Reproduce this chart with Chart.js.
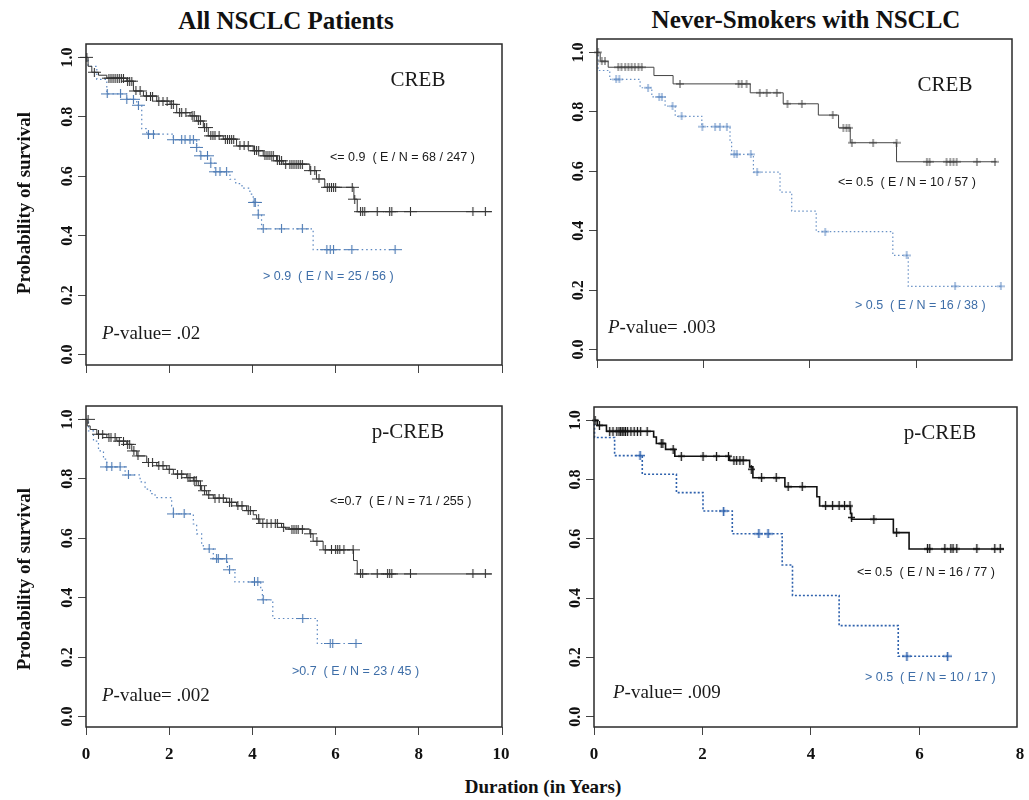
<!DOCTYPE html>
<html>
<head>
<meta charset="utf-8">
<script src="https://cdn.jsdelivr.net/npm/chart.js@4.4.1/dist/chart.umd.min.js"></script>
<style>
  body { margin: 0; background: #fff; width: 1029px; height: 800px; position: relative; overflow: hidden; font-family: "Liberation Serif", serif; }
  canvas { position: absolute; }
  .title { position: absolute; font-weight: bold; font-size: 25px; line-height: 1; white-space: nowrap; transform: translateX(-50%); color: #111; }
</style>
</head>
<body>
<div class="title" style="left:286px;top:8px">All NSCLC Patients</div>
<div class="title" style="left:806px;top:7px">Never-Smokers with NSCLC</div>
<div class="title" style="left:543px;top:777px;font-size:19px">Duration (in Years)</div>
<canvas id="c1" width="510" height="370" style="left:0;top:30px"></canvas>
<canvas id="c2" width="519" height="370" style="left:510px;top:30px"></canvas>
<canvas id="c3" width="510" height="375" style="left:0;top:395px"></canvas>
<canvas id="c4" width="519" height="375" style="left:510px;top:395px"></canvas>
<script>
const xTicksAll = [0, 2, 4, 6, 8, 10];
const xTicksNever = [0, 2, 4, 6, 8];
const yTicks = [0, 0.2, 0.4, 0.6, 0.8, 1.0];

// All NSCLC, CREB <= 0.9
const crebAllLowTime = [0, 0.05, 0.14, 0.3, 0.5, 0.98, 1.14, 1.38, 1.7, 2.02, 2.18, 2.5, 2.66, 2.82, 2.94, 3.3, 3.62, 4.02, 4.26, 4.58, 4.74, 5.38, 5.54, 5.74, 6.44, 6.52, 9.75];
const crebAllLowSurv = [1.0, 0.97, 0.95, 0.94, 0.93, 0.92, 0.887, 0.87, 0.853, 0.842, 0.814, 0.803, 0.786, 0.764, 0.736, 0.725, 0.702, 0.686, 0.669, 0.652, 0.641, 0.619, 0.591, 0.563, 0.523, 0.481, 0.481];
const crebAllLowCensTime = [0.02, 0.2, 0.55, 0.6, 0.65, 0.7, 0.75, 0.8, 0.85, 0.9, 1.0, 1.05, 1.1, 1.2, 1.3, 1.45, 1.55, 1.6, 1.75, 1.85, 1.95, 2.05, 2.1, 2.25, 2.3, 2.4, 2.55, 2.6, 2.7, 2.75, 2.85, 2.9, 3.0, 3.05, 3.1, 3.2, 3.35, 3.4, 3.45, 3.5, 3.55, 3.7, 3.8, 3.9, 4.05, 4.1, 4.15, 4.3, 4.35, 4.4, 4.45, 4.5, 4.6, 4.65, 4.7, 4.8, 4.9, 4.95, 5.0, 5.05, 5.1, 5.15, 5.2, 5.4, 5.5, 5.6, 5.8, 5.85, 5.9, 5.95, 6.0, 6.4, 6.46, 6.6, 6.65, 6.7, 7.0, 7.3, 7.35, 7.8, 9.3, 9.6];
const crebAllLowCensSurv = [1.0, 0.95, 0.93, 0.93, 0.93, 0.93, 0.93, 0.93, 0.93, 0.93, 0.92, 0.92, 0.92, 0.887, 0.887, 0.87, 0.87, 0.87, 0.853, 0.853, 0.853, 0.842, 0.842, 0.814, 0.814, 0.814, 0.803, 0.803, 0.786, 0.786, 0.764, 0.764, 0.736, 0.736, 0.736, 0.736, 0.725, 0.725, 0.725, 0.725, 0.725, 0.702, 0.702, 0.702, 0.686, 0.686, 0.686, 0.669, 0.669, 0.669, 0.669, 0.669, 0.652, 0.652, 0.652, 0.641, 0.641, 0.641, 0.641, 0.641, 0.641, 0.641, 0.641, 0.619, 0.619, 0.591, 0.563, 0.563, 0.563, 0.563, 0.563, 0.563, 0.523, 0.481, 0.481, 0.481, 0.481, 0.481, 0.481, 0.481, 0.481, 0.481];

// All NSCLC, CREB > 0.9
const crebAllHighTime = [0, 0.05, 0.26, 0.5, 0.98, 1.22, 1.34, 1.46, 2.1, 2.66, 2.74, 3.0, 3.1, 3.46, 3.6, 3.75, 3.94, 4.02, 4.14, 4.22, 5.46, 7.43];
const crebAllHighSurv = [1.0, 0.97, 0.926, 0.877, 0.859, 0.839, 0.76, 0.742, 0.723, 0.697, 0.669, 0.644, 0.615, 0.59, 0.575, 0.56, 0.54, 0.512, 0.47, 0.423, 0.353, 0.353];
const crebAllHighCensTime = [0.51, 0.83, 0.98, 1.14, 1.26, 1.5, 1.62, 2.1, 2.3, 2.38, 2.5, 2.58, 2.66, 2.76, 2.92, 3.0, 3.12, 3.22, 3.38, 4.04, 4.07, 4.14, 4.26, 4.7, 5.2, 5.79, 5.87, 5.95, 6.39, 7.43];
const crebAllHighCensSurv = [0.877, 0.877, 0.859, 0.859, 0.839, 0.742, 0.742, 0.723, 0.723, 0.723, 0.723, 0.723, 0.697, 0.669, 0.669, 0.644, 0.615, 0.615, 0.615, 0.512, 0.512, 0.47, 0.423, 0.423, 0.423, 0.353, 0.353, 0.353, 0.353, 0.353];

// Never-smokers, CREB <= 0.5
const crebNevLowTime = [0, 0.06, 0.21, 1.07, 1.43, 2.88, 3.5, 4.16, 4.54, 4.76, 5.63, 7.51];
const crebNevLowSurv = [1.0, 0.97, 0.95, 0.922, 0.894, 0.864, 0.827, 0.789, 0.746, 0.696, 0.632, 0.632];
const crebNevLowCensTime = [0.02, 0.09, 0.15, 0.4, 0.46, 0.53, 0.59, 0.65, 0.71, 0.78, 0.84, 1.56, 2.66, 2.72, 2.81, 3.06, 3.19, 3.38, 3.58, 3.85, 4.43, 4.63, 4.69, 4.74, 4.79, 5.19, 5.63, 6.2, 6.25, 6.57, 6.64, 6.7, 6.76, 7.14, 7.48];
const crebNevLowCensSurv = [1.0, 0.97, 0.97, 0.95, 0.95, 0.95, 0.95, 0.95, 0.95, 0.95, 0.95, 0.894, 0.894, 0.894, 0.894, 0.864, 0.864, 0.864, 0.827, 0.827, 0.789, 0.746, 0.746, 0.746, 0.696, 0.696, 0.696, 0.632, 0.632, 0.632, 0.632, 0.632, 0.632, 0.632, 0.632];

// Never-smokers, CREB > 0.5
const crebNevHighTime = [0, 0.02, 0.24, 0.81, 1.03, 1.28, 1.47, 1.97, 2.5, 2.53, 2.94, 3.44, 3.66, 4.12, 5.56, 5.85, 7.59];
const crebNevHighSurv = [1.0, 0.939, 0.909, 0.881, 0.85, 0.819, 0.785, 0.75, 0.7, 0.657, 0.597, 0.53, 0.466, 0.397, 0.317, 0.213, 0.213];
const crebNevHighCensTime = [0.36, 0.42, 0.96, 1.17, 1.22, 1.42, 1.59, 1.98, 2.22, 2.31, 2.44, 2.58, 2.63, 2.89, 3.01, 4.29, 5.82, 6.73, 7.59];
const crebNevHighCensSurv = [0.909, 0.909, 0.881, 0.85, 0.85, 0.819, 0.785, 0.75, 0.75, 0.75, 0.75, 0.657, 0.657, 0.657, 0.597, 0.397, 0.317, 0.213, 0.213];

// All NSCLC, p-CREB <= 0.7
const pcrebAllLowTime = [0, 0.03, 0.1, 0.26, 0.5, 0.74, 0.98, 1.1, 1.22, 1.46, 1.7, 1.94, 2.1, 2.42, 2.58, 2.7, 2.78, 2.9, 3.06, 3.38, 3.62, 3.86, 4.02, 4.1, 4.18, 4.7, 4.8, 5.38, 5.46, 5.7, 6.43, 6.52, 9.75];
const pcrebAllLowSurv = [1.0, 0.978, 0.966, 0.95, 0.939, 0.927, 0.916, 0.894, 0.877, 0.855, 0.844, 0.832, 0.816, 0.804, 0.793, 0.777, 0.76, 0.746, 0.735, 0.721, 0.709, 0.693, 0.679, 0.665, 0.65, 0.637, 0.631, 0.615, 0.59, 0.561, 0.525, 0.48, 0.48];
const pcrebAllLowCensTime = [0.05, 0.3, 0.4, 0.55, 0.6, 0.7, 0.8, 0.9, 1.0, 1.05, 1.15, 1.25, 1.5, 1.6, 1.75, 1.85, 2.0, 2.2, 2.3, 2.45, 2.5, 2.6, 2.65, 2.75, 2.85, 2.95, 3.1, 3.2, 3.3, 3.45, 3.5, 3.65, 3.75, 3.9, 3.95, 4.15, 4.25, 4.35, 4.45, 4.55, 4.6, 4.75, 4.95, 5.0, 5.05, 5.1, 5.2, 5.4, 5.55, 5.75, 5.9, 6.0, 6.05, 6.1, 6.2, 6.42, 6.6, 6.65, 7.0, 7.25, 7.3, 7.35, 7.8, 9.3, 9.6];
const pcrebAllLowCensSurv = [1.0, 0.95, 0.95, 0.939, 0.939, 0.939, 0.927, 0.927, 0.916, 0.916, 0.894, 0.877, 0.855, 0.855, 0.844, 0.844, 0.832, 0.816, 0.816, 0.804, 0.804, 0.793, 0.793, 0.777, 0.76, 0.746, 0.735, 0.735, 0.735, 0.721, 0.721, 0.709, 0.709, 0.693, 0.693, 0.665, 0.65, 0.65, 0.65, 0.65, 0.65, 0.637, 0.631, 0.631, 0.631, 0.631, 0.631, 0.615, 0.59, 0.561, 0.561, 0.561, 0.561, 0.561, 0.561, 0.561, 0.48, 0.48, 0.48, 0.48, 0.48, 0.48, 0.48, 0.48, 0.48];

// All NSCLC, p-CREB > 0.7
const pcrebAllHighTime = [0, 0.06, 0.18, 0.3, 0.42, 0.5, 0.94, 1.3, 1.42, 1.55, 1.66, 2.06, 2.1, 2.58, 2.66, 2.78, 2.82, 3.06, 3.4, 3.58, 4.2, 4.24, 4.49, 5.56, 6.63];
const pcrebAllHighSurv = [1.0, 0.961, 0.927, 0.894, 0.866, 0.84, 0.813, 0.79, 0.765, 0.75, 0.737, 0.709, 0.682, 0.648, 0.615, 0.575, 0.564, 0.531, 0.494, 0.453, 0.43, 0.393, 0.33, 0.246, 0.246];
const pcrebAllHighCensTime = [0.5, 0.62, 0.82, 1.02, 2.1, 2.36, 2.96, 3.14, 3.18, 3.38, 3.45, 4.05, 4.13, 4.26, 5.21, 5.87, 5.93, 6.49];
const pcrebAllHighCensSurv = [0.84, 0.84, 0.84, 0.813, 0.682, 0.682, 0.564, 0.531, 0.531, 0.531, 0.494, 0.453, 0.453, 0.393, 0.33, 0.246, 0.246, 0.246];

// Never-smokers, p-CREB <= 0.5
const pcrebNevLowTime = [0, 0.06, 0.23, 1.1, 1.15, 1.32, 1.49, 2.5, 2.87, 2.93, 3.52, 4.11, 4.16, 4.73, 4.75, 5.52, 5.81, 7.56];
const pcrebNevLowSurv = [1.0, 0.983, 0.963, 0.944, 0.922, 0.902, 0.879, 0.865, 0.843, 0.806, 0.776, 0.742, 0.711, 0.686, 0.666, 0.621, 0.566, 0.566];
const pcrebNevLowCensTime = [0.02, 0.1, 0.29, 0.35, 0.42, 0.46, 0.49, 0.52, 0.55, 0.58, 0.62, 0.68, 0.74, 0.8, 0.86, 0.98, 1.24, 1.27, 1.46, 1.61, 2.01, 2.26, 2.48, 2.58, 2.63, 2.69, 2.75, 2.9, 3.09, 3.36, 3.58, 3.84, 4.27, 4.4, 4.52, 4.62, 4.72, 4.75, 5.16, 5.58, 6.15, 6.19, 6.47, 6.58, 6.62, 6.69, 7.06, 7.39, 7.49];
const pcrebNevLowCensSurv = [1.0, 0.983, 0.963, 0.963, 0.963, 0.963, 0.963, 0.963, 0.963, 0.963, 0.963, 0.963, 0.963, 0.963, 0.963, 0.963, 0.922, 0.922, 0.902, 0.879, 0.879, 0.879, 0.879, 0.865, 0.865, 0.865, 0.865, 0.835, 0.806, 0.806, 0.776, 0.776, 0.711, 0.711, 0.711, 0.711, 0.711, 0.672, 0.666, 0.621, 0.566, 0.566, 0.566, 0.566, 0.566, 0.566, 0.566, 0.566, 0.566];

// Never-smokers, p-CREB > 0.5
const pcrebNevHighTime = [0, 0.01, 0.38, 0.89, 1.52, 2.01, 2.55, 3.47, 3.66, 4.52, 5.61, 6.52];
const pcrebNevHighSurv = [1.0, 0.942, 0.881, 0.818, 0.756, 0.694, 0.617, 0.512, 0.409, 0.307, 0.204, 0.204];
const pcrebNevHighCensTime = [0.85, 2.39, 3.04, 3.21, 5.77, 6.52];
const pcrebNevHighCensSurv = [0.881, 0.694, 0.617, 0.617, 0.204, 0.204];

const pts = (t, s) => t.map((v, i) => ({ x: v, y: s[i] }));

function crossImg(w, h, color, lw) {
  const c = document.createElement('canvas');
  c.width = w; c.height = h;
  const g = c.getContext('2d');
  g.strokeStyle = color; g.lineWidth = lw;
  g.beginPath();
  g.moveTo(0, h / 2); g.lineTo(w, h / 2);
  g.moveTo(w / 2, 0); g.lineTo(w / 2, h);
  g.stroke();
  return c;
}

const kmDecor = {
  id: 'kmDecor',
  afterDraw(chart, args, o) {
    const { ctx, chartArea: a, scales: { x, y } } = chart;
    ctx.save();
    ctx.strokeStyle = '#2a2a2a';
    ctx.lineWidth = 1.5;
    ctx.strokeRect(a.left, a.top, a.right - a.left, a.bottom - a.top);
    ctx.fillStyle = '#111';
    ctx.textAlign = 'center';
    ctx.textBaseline = 'middle';
    ctx.font = 'bold 16px "Liberation Serif"';
    y.ticks.forEach(t => {
      ctx.save();
      ctx.translate(a.left - 18, y.getPixelForValue(t.value));
      ctx.rotate(-Math.PI / 2);
      ctx.fillText(t.value.toFixed(1), 0, 0);
      ctx.restore();
    });
    if (o.xLabels) {
      ctx.font = 'bold 17px "Liberation Serif"';
      x.ticks.forEach(t => {
        const px = Math.min(x.getPixelForValue(t.value), chart.width - 9);
        ctx.fillText(String(t.value), px, a.bottom + 28);
      });
    }
    if (o.yTitleAt) {
      ctx.save();
      ctx.font = 'bold 19px "Liberation Serif"';
      ctx.translate(25, o.yTitleAt);
      ctx.rotate(-Math.PI / 2);
      ctx.fillText('Probability of survival', 0, 0);
      ctx.restore();
    }
    (o.notes || []).forEach(n => {
      ctx.fillStyle = n.color || '#1a1a1a';
      ctx.textAlign = n.align || 'left';
      if (n.pval) {
        ctx.font = 'italic 19px "Liberation Serif"';
        ctx.fillText('P', n.x, n.y);
        const w = ctx.measureText('P').width;
        ctx.font = '19px "Liberation Serif"';
        ctx.fillText('-value= ' + n.pval, n.x + w, n.y);
      } else {
        ctx.font = n.font;
        ctx.fillText(n.text, n.x, n.y);
      }
    });
    ctx.restore();
  }
};

const sans = '12.5px "Liberation Sans"';
const serifBig = '21px "Liberation Serif"';
const blueText = '#3e6ea8';

function makeChart(id, p) {
  const W = document.getElementById(id).width;
  const H = document.getElementById(id).height;
  const lineDs = (data, color, width, dash) => ({
    data, borderColor: color, borderWidth: width, borderDash: dash || [],
    stepped: true, pointRadius: 0, fill: false, clip: false
  });
  const censDs = (data, img) => ({
    data, showLine: false, pointStyle: img, pointRadius: 5, pointHoverRadius: 5, clip: false
  });
  new Chart(document.getElementById(id), {
    type: 'line',
    data: {
      datasets: [
        lineDs(pts(p.low[0], p.low[1]), p.lowColor, p.lowWidth),
        censDs(pts(p.low[2], p.low[3]), p.lowCross),
        lineDs(pts(p.high[0], p.high[1]), p.highColor, p.highWidth, p.highDash),
        censDs(pts(p.high[2], p.high[3]), p.highCross)
      ]
    },
    options: {
      responsive: false,
      animation: false,
      devicePixelRatio: 1,
      layout: { padding: { left: 0, top: p.area.t, right: W - p.area.r, bottom: 0 } },
      plugins: {
        legend: { display: false },
        tooltip: { enabled: false },
        kmDecor: { xLabels: p.xLabels, yTitleAt: p.yTitleAt, notes: p.notes }
      },
      scales: {
        x: {
          type: 'linear', min: 0, max: p.xMax,
          afterBuildTicks: s => { s.ticks = p.xTicks.map(v => ({ value: v })); },
          afterFit: s => { s.height = H - p.area.b; s.paddingLeft = 0; s.paddingRight = 0; },
          ticks: { display: false },
          grid: {
            drawOnChartArea: false, drawTicks: true, tickLength: 8,
            color: c => (c.tick && c.tick.value > p.xMax ? 'rgba(0,0,0,0)' : '#444')
          },
          border: { display: false }
        },
        y: {
          type: 'linear', min: -0.035, max: 1.045,
          afterBuildTicks: s => { s.ticks = yTicks.map(v => ({ value: v })); },
          afterFit: s => { s.width = p.area.l; s.paddingTop = 0; s.paddingBottom = 0; },
          ticks: { display: false },
          grid: { drawOnChartArea: false, drawTicks: true, tickLength: 8, color: '#444' },
          border: { display: false }
        }
      }
    },
    plugins: [kmDecor]
  });
}

const bigBlack = crossImg(13, 9, '#333', 1.1);
const bigBlue = crossImg(13, 9, '#4a78b2', 1.1);

makeChart('c1', {
  area: { l: 86, t: 14, r: 502, b: 335 }, xMax: 10, xTicks: xTicksAll, xLabels: false, yTitleAt: 173,
  low: [crebAllLowTime, crebAllLowSurv, crebAllLowCensTime, crebAllLowCensSurv],
  high: [crebAllHighTime, crebAllHighSurv, crebAllHighCensTime, crebAllHighCensSurv],
  lowColor: '#333', lowWidth: 1, highColor: '#5a86c0', highWidth: 1.2, highDash: [1.5, 3],
  lowCross: bigBlack, highCross: bigBlue,
  notes: [
    { text: 'CREB', x: 418, y: 50, font: serifBig, align: 'center' },
    { text: '<= 0.9  ( E / N = 68 / 247 )', x: 330, y: 128, font: sans },
    { text: '> 0.9  ( E / N = 25 / 56 )', x: 263, y: 247, font: sans, color: blueText },
    { pval: '.02', x: 102, y: 304 }
  ]
});

makeChart('c2', {
  area: { l: 87, t: 9, r: 502, b: 330 }, xMax: 7.8, xTicks: xTicksNever, xLabels: false, yTitleAt: 0,
  low: [crebNevLowTime, crebNevLowSurv, crebNevLowCensTime, crebNevLowCensSurv],
  high: [crebNevHighTime, crebNevHighSurv, crebNevHighCensTime, crebNevHighCensSurv],
  lowColor: '#444', lowWidth: 1, highColor: '#6a92c6', highWidth: 1.2, highDash: [1.5, 2.5],
  lowCross: crossImg(8, 8, '#444', 1), highCross: crossImg(8, 8, '#5a86c0', 1),
  notes: [
    { text: 'CREB', x: 435, y: 55, font: serifBig, align: 'center' },
    { text: '<= 0.5  ( E / N = 10 / 57 )', x: 328, y: 153, font: sans },
    { text: '> 0.5  ( E / N = 16 / 38 )', x: 345, y: 276, font: sans, color: blueText },
    { pval: '.003', x: 98, y: 298 }
  ]
});

makeChart('c3', {
  area: { l: 86, t: 11, r: 502, b: 332 }, xMax: 10, xTicks: xTicksAll, xLabels: true, yTitleAt: 184,
  low: [pcrebAllLowTime, pcrebAllLowSurv, pcrebAllLowCensTime, pcrebAllLowCensSurv],
  high: [pcrebAllHighTime, pcrebAllHighSurv, pcrebAllHighCensTime, pcrebAllHighCensSurv],
  lowColor: '#333', lowWidth: 1, highColor: '#5a86c0', highWidth: 1.2, highDash: [1.5, 3],
  lowCross: bigBlack, highCross: bigBlue,
  notes: [
    { text: 'p-CREB', x: 408, y: 37, font: serifBig, align: 'center' },
    { text: '<=0.7  ( E / N = 71 / 255 )', x: 330, y: 107, font: sans },
    { text: '>0.7  ( E / N = 23 / 45 )', x: 292, y: 277, font: sans, color: blueText },
    { pval: '.002', x: 102, y: 301 }
  ]
});

makeChart('c4', {
  area: { l: 84, t: 12, r: 507, b: 332 }, xMax: 7.8, xTicks: xTicksNever, xLabels: true, yTitleAt: 0,
  low: [pcrebNevLowTime, pcrebNevLowSurv, pcrebNevLowCensTime, pcrebNevLowCensSurv],
  high: [pcrebNevHighTime, pcrebNevHighSurv, pcrebNevHighCensTime, pcrebNevHighCensSurv],
  lowColor: '#111', lowWidth: 1.6, highColor: '#2f62ad', highWidth: 1.6, highDash: [2, 2],
  lowCross: crossImg(7, 9, '#111', 1.3), highCross: crossImg(9, 9, '#2f62ad', 1.6),
  notes: [
    { text: 'p-CREB', x: 430, y: 38, font: serifBig, align: 'center' },
    { text: '<= 0.5  ( E / N = 16 / 77 )', x: 347, y: 178, font: sans },
    { text: '> 0.5  ( E / N = 10 / 17 )', x: 355, y: 283, font: sans, color: blueText },
    { pval: '.009', x: 103, y: 298 }
  ]
});
</script>
</body>
</html>
